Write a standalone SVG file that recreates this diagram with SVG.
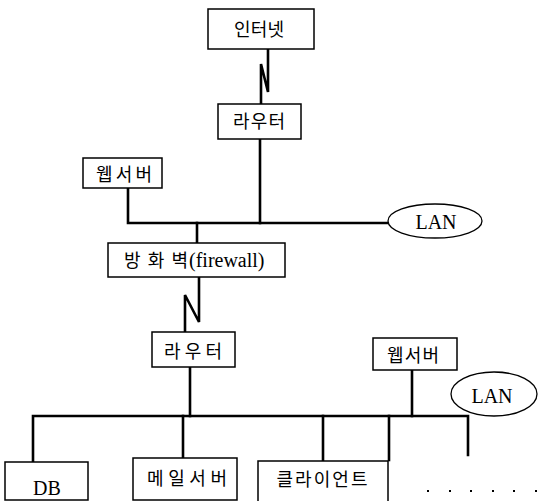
<svg xmlns="http://www.w3.org/2000/svg" width="540" height="501" viewBox="0 0 540 501">
<style>
.box{fill:#fff;stroke:#000;stroke-width:1.5}
.ell{fill:#fff;stroke:#000;stroke-width:1.3}
.ln{fill:none;stroke:#000;stroke-width:2.6;stroke-linecap:square;stroke-linejoin:miter}
.ko{font-family:"Liberation Serif","Noto Sans CJK KR",serif;font-size:18px;fill:#000;text-anchor:middle}
.en{font-family:"Liberation Serif",serif;font-size:20px;fill:#000;text-anchor:middle}
.st{text-anchor:start}
</style>
<rect width="540" height="501" fill="#fff"/>
<g id="connectors">
<path class="ln" d="M268,50 V92 L261,64 V103"/>
<path class="ln" d="M260,140 V223"/>
<path class="ln" d="M128,189 V223 H387"/>
<path class="ln" d="M197,223 V242"/>
<path class="ln" d="M199,278 V322 L185,295 V331"/>
<path class="ln" d="M190,368 V416"/>
<path class="ln" d="M33,461 V416 H468 V455"/>
<path class="ln" d="M183,416 V457"/>
<path class="ln" d="M323,416 V460"/>
<path class="ln" d="M389,416 V460"/>
<path class="ln" d="M412,371 V416"/>
</g>
<g id="internet">
<rect class="box" x="208" y="9" width="106" height="40"/>
<text class="ko" x="259" y="36" textLength="50">인터넷</text>
</g>
<g id="router1">
<rect class="box" x="218" y="104" width="83" height="35"/>
<text class="ko" x="259" y="128" textLength="52">라우터</text>
</g>
<g id="webserver1">
<rect class="box" x="83" y="158" width="79" height="30"/>
<text class="ko" x="124" y="181" textLength="56">웹서버</text>
</g>
<g id="lan1">
<ellipse class="ell" cx="435" cy="221" rx="47" ry="17"/>
<text class="en" x="436" y="229">LAN</text>
</g>
<g id="firewall">
<rect class="box" x="108" y="243" width="177" height="34"/>
<text class="ko" x="156" y="267" textLength="64">방화벽</text>
<text class="en st" x="189" y="267">(firewall)</text>
</g>
<g id="router2">
<rect class="box" x="152" y="332" width="83" height="35"/>
<text class="ko" x="193" y="358" textLength="58">라우터</text>
</g>
<g id="webserver2">
<rect class="box" x="373" y="338" width="84" height="32"/>
<text class="ko" x="413" y="362" textLength="52">웹서버</text>
</g>
<g id="lan2">
<ellipse class="ell" cx="494" cy="394" rx="43" ry="22"/>
<text class="en" x="492" y="403">LAN</text>
</g>
<g id="db">
<rect class="box" x="5" y="462" width="83" height="38"/>
<text class="en" x="47" y="495" font-size="19">DB</text>
</g>
<g id="mailserver">
<rect class="box" x="133" y="458" width="104" height="42"/>
<text class="ko" x="187" y="485" textLength="80">메일서버</text>
</g>
<g id="client">
<rect class="box" x="258" y="461" width="130" height="42"/>
<text class="ko" x="322" y="486" textLength="91">클라이언트</text>
</g>
<g id="more" fill="#000">
<rect x="427" y="490" width="2" height="2"/>
<rect x="449" y="490" width="2" height="2"/>
<rect x="470" y="490" width="2" height="2"/>
<rect x="492" y="490" width="2" height="2"/>
<rect x="513" y="490" width="2" height="2"/>
<rect x="535" y="490" width="2" height="2"/>
</g>
</svg>
